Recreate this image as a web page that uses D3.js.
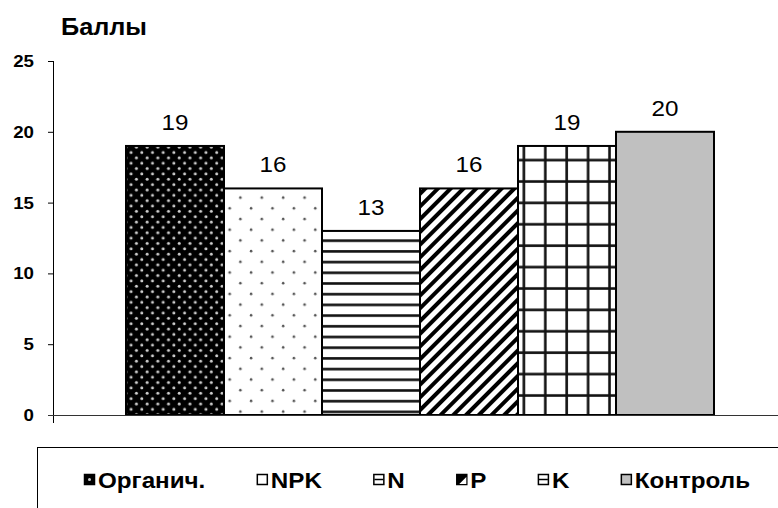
<!DOCTYPE html>
<html><head><meta charset="utf-8">
<script src="https://cdn.jsdelivr.net/npm/d3@7/dist/d3.min.js"></script>
<style>body{margin:0;background:#fff}svg{display:block}text{font-family:"Liberation Sans",Arial,sans-serif}</style>
</head><body><svg id="c" width="778" height="508"></svg>
<script>
const categories = ["Органич.", "NPK", "N", "P", "K", "Контроль"];
const values = [19, 16, 13, 16, 19, 20];
const yTicks = [0, 5, 10, 15, 20, 25];
const patternIds = ["org", "npk", "n", "p", "k", "ctrl"];

const SX = 1.1; // horizontal text stretch seen in the reference
const svg = d3.select("#c");
const defs = svg.append("defs");

function txt(parent, x, y, str, size, bold, anchor) {
  const t = parent.append("text")
    .attr("transform", `translate(${x},${y}) scale(${SX},1)`)
    .attr("font-size", size).attr("fill", "#000")
    .attr("text-anchor", anchor || "start").text(str);
  if (bold) t.attr("font-weight", "bold");
  return t;
}

// patterns
let p = defs.append("pattern").attr("id","org").attr("patternUnits","userSpaceOnUse").attr("width",10.7).attr("height",10.7);
p.append("rect").attr("width",10.7).attr("height",10.7).attr("fill","#000");
p.append("circle").attr("cx",2.7).attr("cy",2.7).attr("r",1.5).attr("fill","#d0d0d0");
p.append("circle").attr("cx",8.05).attr("cy",8.05).attr("r",1.5).attr("fill","#d0d0d0");

p = defs.append("pattern").attr("id","npk").attr("patternUnits","userSpaceOnUse").attr("width",21.4).attr("height",21.4);
p.append("rect").attr("width",21.4).attr("height",21.4).attr("fill","#fff");
p.append("circle").attr("cx",5).attr("cy",5).attr("r",1.3).attr("fill","#555");
p.append("circle").attr("cx",15.7).attr("cy",15.7).attr("r",1.3).attr("fill","#555");

p = defs.append("pattern").attr("id","n").attr("patternUnits","userSpaceOnUse").attr("width",10).attr("height",10.7);
p.append("rect").attr("width",10).attr("height",10.7).attr("fill","#fff");
p.append("rect").attr("y",4).attr("width",10).attr("height",2.6).attr("fill","#111");

p = defs.append("pattern").attr("id","p").attr("patternUnits","userSpaceOnUse").attr("width",9).attr("height",9).attr("patternTransform","rotate(45)");
p.append("rect").attr("width",9).attr("height",9).attr("fill","#fff");
p.append("rect").attr("width",4).attr("height",9).attr("fill","#000");

p = defs.append("pattern").attr("id","k").attr("patternUnits","userSpaceOnUse").attr("width",21.4).attr("height",21.4);
p.append("rect").attr("width",21.4).attr("height",21.4).attr("fill","#fff");
p.append("rect").attr("x",9).attr("width",2.6).attr("height",21.4).attr("fill","#111");
p.append("rect").attr("y",9).attr("width",21.4).attr("height",2.6).attr("fill","#111");

const fills = {org:"url(#org)", npk:"url(#npk)", n:"url(#n)", p:"url(#p)", k:"url(#k)", ctrl:"#c0c0c0"};

const x = d3.scaleBand().domain(categories).range([126, 714]).padding(0);
const y = d3.scaleLinear().domain([0, 25]).range([415, 61]);

// title
txt(svg, 61, 35, "Баллы", 23, true);

// y axis (ticks via d3 axis, labels drawn stretched)
const axis = svg.append("g").attr("transform","translate(53,0)")
  .call(d3.axisLeft(y).tickValues(yTicks).tickSize(5).tickFormat(""));
axis.select(".domain").remove();
axis.selectAll(".tick line").attr("stroke","#000");
yTicks.forEach(v => txt(svg, 34, y(v) + 6, v, 17, true, "end"));
svg.append("line").attr("x1",53.5).attr("x2",53.5).attr("y1",y(25)).attr("y2",423).attr("stroke","#000");

// bars
svg.selectAll(".bar").data(categories).enter().append("rect")
  .attr("x", d => x(d)).attr("width", x.bandwidth())
  .attr("y", (d,i) => y(values[i])).attr("height", (d,i) => y(0) - y(values[i]))
  .attr("fill", (d,i) => fills[patternIds[i]])
  .attr("stroke","#000").attr("stroke-width",2);

// x axis line
svg.append("line").attr("x1",48).attr("x2",778).attr("y1",415.5).attr("y2",415.5).attr("stroke","#333");

// value labels
categories.forEach((d,i) => txt(svg, x(d) + x.bandwidth()/2, y(values[i]) - 16, values[i], 22, false, "middle"));

// legend box
svg.append("rect").attr("x",37.5).attr("y",447.5).attr("width",800).attr("height",100)
  .attr("fill","none").attr("stroke","#000");

// legend items: measure, then space evenly between x=84 and x=750
const lg = svg.append("g");
const items = categories.map((d,i) => {
  const g = lg.append("g");
  g.append("rect").attr("x",0.5).attr("y",0.5).attr("width",10).attr("height",10)
    .attr("fill", i===0||i===3 ? "#000" : (i===5 ? "#c0c0c0" : "#fff"))
    .attr("stroke","#000").attr("stroke-width",1.5);
  if (i===0) g.append("circle").attr("cx",5.5).attr("cy",5.5).attr("r",1.5).attr("fill","#ccc");
  if (i===2||i===4) g.append("line").attr("x1",1).attr("x2",10).attr("y1",5.5).attr("y2",5.5).attr("stroke","#000").attr("stroke-width",1.5);
  if (i===3) g.append("path").attr("d","M10,3 L10,10 L3,10 Z").attr("fill","#fff");
  const t = txt(g, 14, 14, d, 22, true);
  const w = 14 + t.node().getComputedTextLength() * SX;
  return {g, w};
});
const startX = 84, endX = 750;
const total = d3.sum(items, it => it.w);
const gap = (endX - startX - total) / (items.length - 1);
let cx = startX;
items.forEach(it => { it.g.attr("transform", `translate(${cx},474)`); cx += it.w + gap; });
</script></body></html>
